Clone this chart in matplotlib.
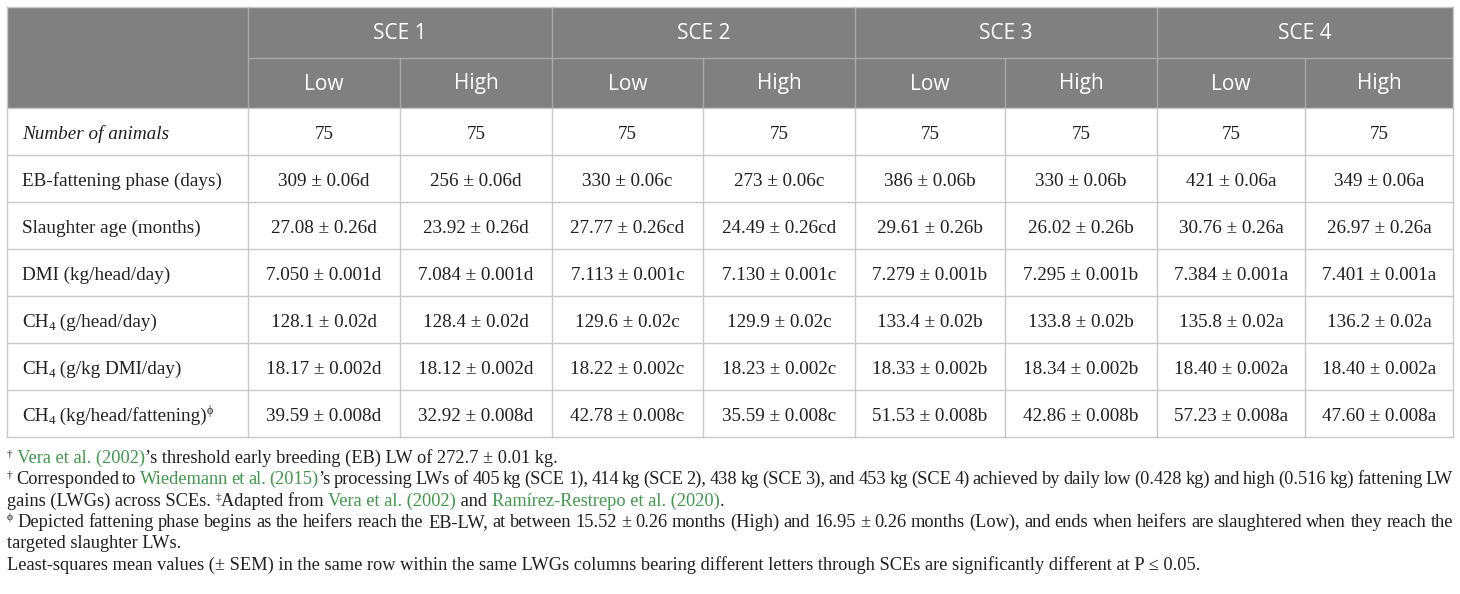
import matplotlib
matplotlib.use("Agg")
import matplotlib.pyplot as plt
from matplotlib.patches import Rectangle

# ---------------- data ----------------
groups = ["SCE 1", "SCE 2", "SCE 3", "SCE 4"]
sublevels = ["Low", "High"]
row_labels = [
    "Number of animals",
    "EB-fattening phase (days)",
    "Slaughter age (months)",
    "DMI (kg/head/day)",
    "CH4 (g/head/day)",
    "CH4 (g/kg DMI/day)",
    "CH4 (kg/head/fattening)",
]
n_animals = ["75", "75", "75", "75", "75", "75", "75", "75"]
eb_fattening = ["309 ± 0.06d", "256 ± 0.06d", "330 ± 0.06c", "273 ± 0.06c",
                "386 ± 0.06b", "330 ± 0.06b", "421 ± 0.06a", "349 ± 0.06a"]
slaughter_age = ["27.08 ± 0.26d", "23.92 ± 0.26d", "27.77 ± 0.26cd", "24.49 ± 0.26cd",
                 "29.61 ± 0.26b", "26.02 ± 0.26b", "30.76 ± 0.26a", "26.97 ± 0.26a"]
dmi = ["7.050 ± 0.001d", "7.084 ± 0.001d", "7.113 ± 0.001c", "7.130 ± 0.001c",
       "7.279 ± 0.001b", "7.295 ± 0.001b", "7.384 ± 0.001a", "7.401 ± 0.001a"]
ch4_day = ["128.1 ± 0.02d", "128.4 ± 0.02d", "129.6 ± 0.02c", "129.9 ± 0.02c",
           "133.4 ± 0.02b", "133.8 ± 0.02b", "135.8 ± 0.02a", "136.2 ± 0.02a"]
ch4_dmi = ["18.17 ± 0.002d", "18.12 ± 0.002d", "18.22 ± 0.002c", "18.23 ± 0.002c",
           "18.33 ± 0.002b", "18.34 ± 0.002b", "18.40 ± 0.002a", "18.40 ± 0.002a"]
ch4_fat = ["39.59 ± 0.008d", "32.92 ± 0.008d", "42.78 ± 0.008c", "35.59 ± 0.008c",
           "51.53 ± 0.008b", "42.86 ± 0.008b", "57.23 ± 0.008a", "47.60 ± 0.008a"]
table_values = [n_animals, eb_fattening, slaughter_age, dmi, ch4_day, ch4_dmi, ch4_fat]

GREEN = "#3d9b4a"
TXT = "#231f20"
# footnotes: each line = (justify?, [(text, color, kind), ...]); kind n=normal, sup=superscript
footnotes = [
    (False, [("†", TXT, "sup"), (" Vera et al. (2002)", GREEN, "n"),
             ("’s threshold early breeding (EB) LW of 272.7 ± 0.01 kg.", TXT, "n")]),
    (True, [("†", TXT, "sup"), (" Corresponded to ", TXT, "n"), ("Wiedemann et al. (2015)", GREEN, "n"),
            ("’s processing LWs of 405 kg (SCE 1), 414 kg (SCE 2), 438 kg (SCE 3), and 453 kg (SCE 4) achieved by daily low (0.428 kg) and high (0.516 kg) fattening LW", TXT, "n")]),
    (False, [("gains (LWGs) across SCEs. ", TXT, "n"), ("‡", TXT, "sup"), ("Adapted from ", TXT, "n"),
             ("Vera et al. (2002)", GREEN, "n"), (" and ", TXT, "n"),
             ("Ramírez-Restrepo et al. (2020)", GREEN, "n"), (".", TXT, "n")]),
    (True, [("ϕ", TXT, "sup"), (" Depicted fattening phase begins as the heifers reach the EB-LW, at between 15.52 ± 0.26 months (High) and 16.95 ± 0.26 months (Low), and ends when heifers are slaughtered when they reach the", TXT, "n")]),
    (False, [("targeted slaughter LWs.", TXT, "n")]),
    (False, [("Least-squares mean values (± SEM) in the same row within the same LWGs columns bearing different letters through SCEs are significantly different at P ≤ 0.05.", TXT, "n")]),
]

# ---------------- layout (pixels) ----------------
W, H = 1460, 594
fig = plt.figure(figsize=(W / 100, H / 100), dpi=100)
ax = fig.add_axes([0, 0, 1, 1])
ax.set_xlim(0, W)
ax.set_ylim(H, 0)
ax.axis("off")

left, right = 7, 1453
top, hmid, hbot = 7, 58, 108
row_h = 47
col_edges = [248, 400, 552, 703, 855, 1005, 1157, 1305, 1453]
bottom = hbot + row_h * len(row_labels)

HEAD = "#808080"
HLINE = "#a9a9a9"
GRID = "#c9c9c9"

ax.add_patch(Rectangle((left, top), right - left, hbot - top, facecolor=HEAD, edgecolor="none", zorder=1))
ax.plot([col_edges[0], right], [hmid, hmid], color=HLINE, lw=1.0, zorder=2)
for i, x in enumerate(col_edges[:-1]):
    y0 = top if i % 2 == 0 else hmid
    ax.plot([x, x], [y0, hbot], color=HLINE, lw=1.0, zorder=2)

for r in range(len(row_labels) + 1):
    y = hbot + r * row_h
    ax.plot([left, right], [y, y], color=GRID, lw=1.0, zorder=2)
for x in [left] + col_edges:
    ax.plot([x, x], [hbot, bottom], color=GRID, lw=1.0, zorder=2)
ax.plot([left, right], [top, top], color=GRID, lw=1.0, zorder=2)
ax.plot([left, left], [top, hbot], color=GRID, lw=1.0, zorder=2)
ax.plot([right, right], [top, hbot], color=GRID, lw=1.0, zorder=2)

HFONT = "Open Sans"
BFONT = "Liberation Serif"
hsize = 15
bsize = 13.8
fsize = 13.2

for g, name in enumerate(groups):
    x0, x1 = col_edges[2 * g], col_edges[2 * g + 2]
    ax.text((x0 + x1) / 2, (top + hmid) / 2 + 1, name, ha="center", va="center",
            color="white", fontsize=hsize, family=HFONT, zorder=3)
    for s, sl in enumerate(sublevels):
        a, b = col_edges[2 * g + s], col_edges[2 * g + s + 1]
        ax.text((a + b) / 2, (hmid + hbot) / 2 + 1, sl, ha="center", va="center",
                color="white", fontsize=hsize, family=HFONT, zorder=3)

fig.canvas.draw()
renderer = fig.canvas.get_renderer()


def _kw(kind, size):
    if kind == "sup":
        return size * 0.62
    if kind == "sub":
        return size * 0.68
    return size


def _yoff(kind, px):
    if kind == "sup":
        return -0.38 * px
    if kind == "sub":
        return 0.18 * px
    return 0.0


def measure(txt, size, family, style="normal"):
    t = ax.text(0, 0, txt, fontsize=size, family=family, style=style)
    w = t.get_window_extent(renderer=renderer).width
    t.remove()
    return w


def draw_segments(x, yc, segs, size, family, style="normal"):
    px = size * 100 / 72
    base = yc + 0.33 * px
    for txt, color, kind in segs:
        t = ax.text(x, base + _yoff(kind, px), txt, ha="left", va="baseline", color=color,
                    fontsize=_kw(kind, size), family=family, style=style, zorder=3)
        x += t.get_window_extent(renderer=renderer).width
    return x


def draw_justified(x0, x1, yc, segs, size, family):
    """Split segments into words and spread them over [x0, x1]."""
    px = size * 100 / 72
    base = yc + 0.33 * px
    # build tokens: list of (text, color, kind, space_before)
    tokens = []
    pending_space = False
    for txt, color, kind in segs:
        parts = txt.split(" ")
        for i, p in enumerate(parts):
            if i > 0:
                pending_space = True
            if p == "":
                continue
            if tokens and not pending_space:
                # glue to previous token group
                tokens[-1].append((p, color, kind))
            else:
                tokens.append([(p, color, kind)])
            pending_space = False
    widths = []
    for grp in tokens:
        widths.append(sum(measure(p, _kw(k, size), family) for p, c, k in grp))
    gap = (x1 - x0 - sum(widths)) / max(len(tokens) - 1, 1)
    x = x0
    for grp, w in zip(tokens, widths):
        xx = x
        for p, c, k in grp:
            t = ax.text(xx, base + _yoff(k, px), p, ha="left", va="baseline", color=c,
                        fontsize=_kw(k, size), family=family, zorder=3)
            xx += t.get_window_extent(renderer=renderer).width
        x += w + gap


# row labels
for r, lab in enumerate(row_labels):
    yc = hbot + r * row_h + row_h / 2 + 1
    if lab.startswith("CH4"):
        segs = [("CH", TXT, "n"), ("4", TXT, "sub"), (lab[3:], TXT, "n")]
        if "fattening" in lab:
            segs.append(("ϕ", TXT, "sup"))
        draw_segments(22, yc, segs, bsize, BFONT)
    elif r == 0:
        draw_segments(22, yc, [(lab, TXT, "n")], bsize, BFONT, style="italic")
    else:
        draw_segments(22, yc, [(lab, TXT, "n")], bsize, BFONT)

# values
bpx = bsize * 100 / 72
for r, vals in enumerate(table_values):
    yc = hbot + r * row_h + row_h / 2 + 1
    for c, v in enumerate(vals):
        a, b = col_edges[c], col_edges[c + 1]
        ax.text((a + b) / 2, yc + 0.33 * bpx, v, ha="center", va="baseline", color=TXT,
                fontsize=bsize, family=BFONT, zorder=3)

# footnotes
foot_y = [457, 478, 500, 521, 542, 564]
for (just, segs), y in zip(footnotes, foot_y):
    if just:
        draw_justified(7, 1453, y, segs, fsize, BFONT)
    else:
        draw_segments(7, y, segs, fsize, BFONT)

fig.savefig("out.png", dpi=100)
